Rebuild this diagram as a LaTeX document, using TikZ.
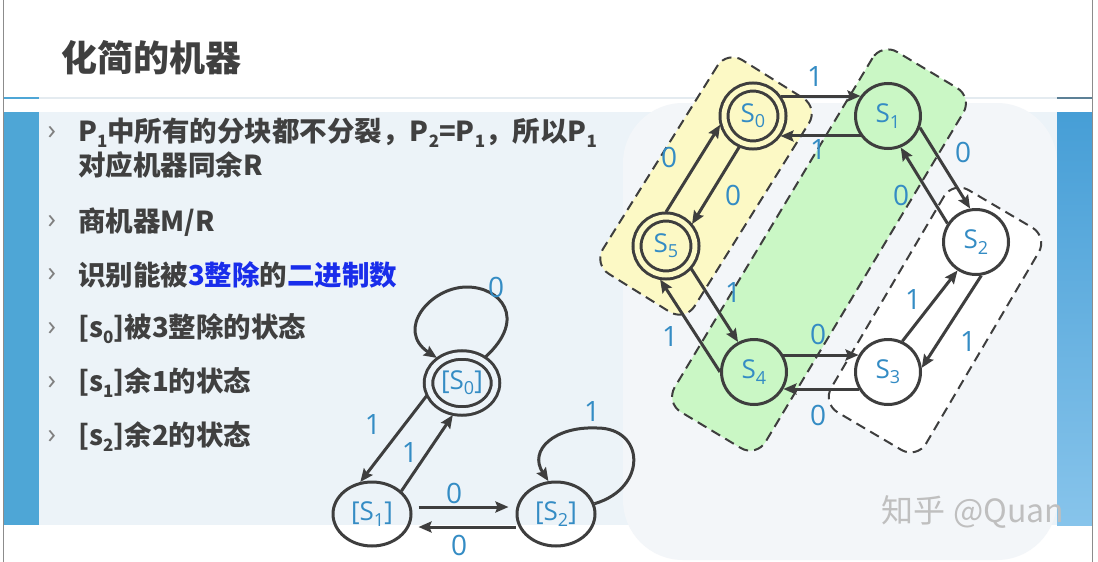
\documentclass[tikz,border=0pt]{standalone}
\usepackage{fontspec}
\setmainfont{Noto Sans CJK SC}
\newfontfamily\labelfont{Open Sans}
\usetikzlibrary{shapes.geometric, arrows.meta, positioning}
\definecolor{TextGray}{RGB}{64,64,64}
\definecolor{LineGray}{RGB}{62,62,62}
\definecolor{LabelBlue}{RGB}{52,140,196}
\definecolor{MarkBlue}{RGB}{25,45,235}
\definecolor{BarBlue}{RGB}{78,166,214}
\definecolor{PanelBlue}{RGB}{236,243,248}
\definecolor{GlowWhite}{RGB}{243,246,249}
\definecolor{SideBlueTop}{RGB}{70,158,214}
\definecolor{SideBlueBot}{RGB}{135,196,235}
\definecolor{SideRule}{RGB}{92,128,150}
\definecolor{RuleGray}{RGB}{228,235,240}
\definecolor{BlockYellow}{RGB}{252,249,197}
\definecolor{BlockGreen}{RGB}{202,247,197}

\newcommand{\subnum}[1]{\raisebox{-0.22em}{\fontsize{17}{17}\selectfont #1}}
\newcommand{\statename}[1]{S\raisebox{-0.2em}{\fontsize{18}{18}\selectfont #1}}

\tikzset{
  titletext/.style={anchor=west, inner sep=0pt, text=TextGray, font=\fontsize{36}{40}\selectfont\bfseries},
  bullettext/.style={anchor=west, inner sep=0pt, text=TextGray, font=\fontsize{27.5}{32}\selectfont\bfseries},
  bulletmark/.style={inner sep=0pt, text=black!50, font=\labelfont\fontsize{28}{28}\selectfont},
  statenode/.style={circle, draw=LineGray, line width=3pt, minimum size=65pt, inner sep=0pt,
    text=LabelBlue, font=\labelfont\fontsize{26}{26}\selectfont},
  acceptnode/.style={statenode, double=#1, double distance=5pt, minimum size=58pt, outer sep=5pt},
  classnode/.style={ellipse, draw=LineGray, line width=3pt, minimum width=78pt, minimum height=64pt,
    inner sep=0pt, text=LabelBlue, font=\labelfont\fontsize{26}{26}\selectfont},
  classaccept/.style={classnode, double=PanelBlue, double distance=5.5pt, minimum width=67pt,
    minimum height=56pt, outer sep=5pt},
  blockbox/.style={draw=LineGray, line width=2pt, dash pattern=on 10pt off 6pt,
    rounded corners=18pt, inner sep=0pt},
  edgelabel/.style={inner sep=0pt, text=LabelBlue, font=\labelfont\fontsize{28}{28}\selectfont},
  arrowline/.style={draw=LineGray, line width=3pt, -{Stealth[length=13pt, width=11pt, inset=2pt]}},
  watermark/.style={inner sep=0pt, text=black!25, font=\fontsize{32}{32}\selectfont}
}

\begin{document}
\begin{tikzpicture}[x=1pt, y=-1pt]
    \useasboundingbox (0,0) rectangle (1098,562);

    % Slide background
    \fill[white] (0,0) rectangle (1098,562);
    \fill[PanelBlue] (39,112) rectangle (1057,525);
    \fill[GlowWhite, rounded corners=60pt] (623,103) rectangle (1057,560);
    \fill[BarBlue] (3,112) rectangle (39,525);
    \shade[top color=SideBlueTop, bottom color=SideBlueBot] (1057,112) rectangle (1092,525);
    \draw[RuleGray, line width=1.5pt] (39,98) -- (1057,98);
    \draw[BarBlue, line width=2pt] (3,98) -- (39,98);
    \draw[SideRule, line width=2pt] (1057,98) -- (1092,98);
    \draw[black!45, line width=1pt] (3,0) -- (3,562);
    \draw[black!45, line width=1pt] (1092,0) -- (1092,562);

    % Title
    \node[titletext] (title) at (61,58) {化简的机器};

    % Bullets
    \foreach \y/\n in {133/1, 222/2, 275/3, 329/4, 383/5, 437/6}
      \node[bulletmark] (mk\n) at (52,\y) {›};
    \node[bullettext] (b1) at (78,133) {P\subnum{1}中所有的分块都不分裂，P\subnum{2}=P\subnum{1}，所以P\subnum{1}};
    \node[bullettext] (b1b) at (78,165) {对应机器同余R};
    \node[bullettext] (b2) at (78,222) {商机器M/R};
    \node[bullettext] (b3) at (78,275) {识别能被{\color{MarkBlue}3整除}的{\color{MarkBlue}二进制数}};
    \node[bullettext] (b4) at (78,329) {[s\subnum{0}]被3整除的状态};
    \node[bullettext] (b5) at (78,383) {[s\subnum{1}]余1的状态};
    \node[bullettext] (b6) at (78,437) {[s\subnum{2}]余2的状态};

    % Blocks of the partition
    \node[blockbox, fill=BlockYellow, minimum width=252pt, minimum height=108pt, rotate=58] (blockA) at (706,186) {};
    \node[blockbox, fill=BlockGreen, minimum width=420pt, minimum height=106pt, rotate=59] (blockB) at (819,250) {};
    \node[blockbox, fill=white, minimum width=258pt, minimum height=110pt, rotate=59.5] (blockC) at (935,320) {};

    % Machine M
    \node[acceptnode=BlockYellow] (s0) at (753,116) {\statename{0}};
    \node[statenode] (s1) at (888,116) {\statename{1}};
    \node[statenode] (s2) at (976,242) {\statename{2}};
    \node[statenode] (s3) at (888,372) {\statename{3}};
    \node[statenode] (s4) at (754,372) {\statename{4}};
    \node[acceptnode=BlockYellow] (s5) at (666,246) {\statename{5}};

    \draw[arrowline] (s0.36) -- (s1.144);
    \draw[arrowline] (s1.216) -- (s0.324);
    \draw[arrowline] (s1.-20) -- (s2.100);
    \draw[arrowline] (s2.147) -- (s1.-68);
    \draw[arrowline] (s5.90) -- (s0.195);
    \draw[arrowline] (s0.246) -- (s5.40);
    \draw[arrowline] (s5.-42) -- (s4.118);
    \draw[arrowline] (s4.180) -- (s5.260);
    \draw[arrowline] (s4.30) -- (s3.150);
    \draw[arrowline] (s3.210) -- (s4.-30);
    \draw[arrowline] (s3.65) -- (s2.237);
    \draw[arrowline] (s2.279) -- (s3.7);

    \node[edgelabel] (l1) at (815,77) {1};
    \node[edgelabel] (l2) at (818,150) {1};
    \node[edgelabel] (l3) at (963,152) {0};
    \node[edgelabel] (l4) at (901,195) {0};
    \node[edgelabel] (l5) at (669,157) {0};
    \node[edgelabel] (l6) at (733,195) {0};
    \node[edgelabel] (l7) at (733,293) {1};
    \node[edgelabel] (l8) at (670,337) {1};
    \node[edgelabel] (l9) at (818,334) {0};
    \node[edgelabel] (l10) at (818,415) {0};
    \node[edgelabel] (l11) at (913,300) {1};
    \node[edgelabel] (l12) at (968,342) {1};

    % Quotient machine M/R
    \node[classaccept] (m0) at (462,383) {[\statename{0}]};
    \node[classnode] (m1) at (372,514) {[\statename{1}]};
    \node[classnode] (m2) at (556,514) {[\statename{2}]};

    \draw[arrowline] (m0.48) .. controls (528,318) and (500,287) .. (467,287)
      .. controls (430,287) and (395,330) .. (m0.135);
    \draw[arrowline] (m2.15) .. controls (648,488) and (645,428) .. (597,428)
      .. controls (555,426) and (528,450) .. (m2.103);
    \draw[arrowline] (m0.200) -- (m1.110);
    \draw[arrowline] (m1.38) -- (m0.254);
    \draw[arrowline, shorten <=6pt, shorten >=7pt] ([yshift=7pt]m1.east) -- ([yshift=7pt]m2.west);
    \draw[arrowline, shorten >=6pt] ([yshift=-13pt]m2.west) -- ([yshift=-13pt]m1.east);

    \node[edgelabel] (k1) at (373,425) {1};
    \node[edgelabel] (k2) at (410,453) {1};
    \node[edgelabel] (k3) at (454,493) {0};
    \node[edgelabel] (k4) at (459,545) {0};
    \node[edgelabel] (k5) at (496,287) {0};
    \node[edgelabel] (k6) at (592,412) {1};

    % Watermark
    \node[watermark] (mark) at (973,512) {知乎 @Quan};
\end{tikzpicture}
\end{document}
